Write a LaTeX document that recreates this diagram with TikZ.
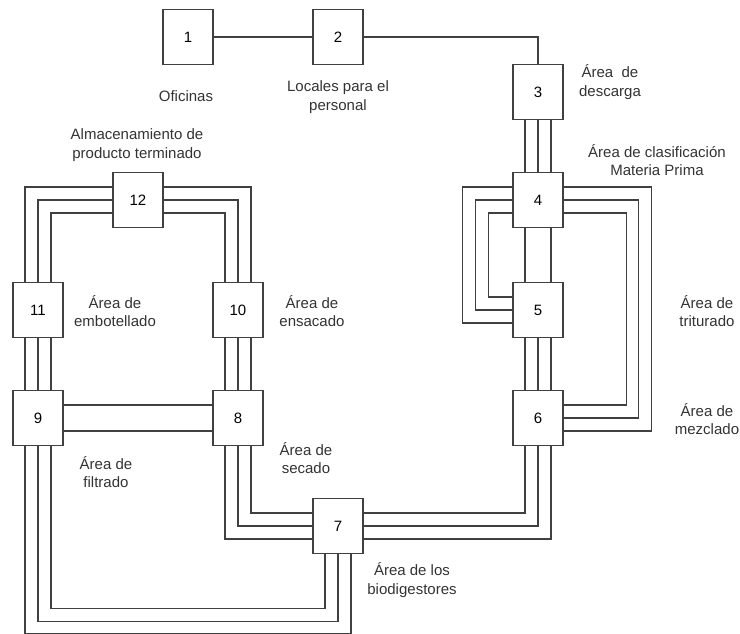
\documentclass[tikz,border=0pt]{standalone}
\usepackage{fontspec}
\setmainfont{Liberation Sans}
\usetikzlibrary{positioning}

\begin{document}
\begin{tikzpicture}[
    x=1pt, y=1pt,
    font=\fontsize{15}{18.5}\selectfont,
    area/.style={draw=black!75, line width=1.2pt, minimum width=50pt, minimum height=55pt, inner sep=0pt},
    pipe/.style={draw=black!75, line width=1.2pt},
    lbl/.style={align=center, text=black!80}
]
    \useasboundingbox (0,0) rectangle (740,-633);

    % areas of the plant
    \node[area] (b1) at (188,-37) {1};
    \node[area] (b2) at (338,-37) {2};
    \node[area] (b3) at (538,-92) {3};
    \node[area] (b4) at (538,-200) {4};
    \node[area] (b5) at (538,-310) {5};
    \node[area] (b6) at (538,-418) {6};
    \node[area] (b7) at (338,-526) {7};
    \node[area] (b8) at (238,-418) {8};
    \node[area] (b9) at (38,-418) {9};
    \node[area] (b10) at (238,-310) {10};
    \node[area] (b11) at (38,-310) {11};
    \node[area] (b12) at (138,-200) {12};

    % labels
    \node[lbl] (l1) at (186,-96) {Oficinas};
    \node[lbl] (l2) at (338,-97) {Locales para el\\personal};
    \node[lbl] (l3) at (610,-82) {Área~~de\\descarga};
    \node[lbl] (l4) at (657,-160) {Área de clasificación\\Materia Prima};
    \node[lbl] (l5) at (707,-311) {Área de\\triturado};
    \node[lbl] (l6) at (707,-419) {Área de\\mezclado};
    \node[lbl] (l7) at (412,-580) {Área de los\\biodigestores};
    \node[lbl] (l8) at (306,-458) {Área de\\secado};
    \node[lbl] (l9) at (106,-472) {Área de\\filtrado};
    \node[lbl] (l10) at (312,-311) {Área de\\ensacado};
    \node[lbl] (l11) at (115,-311) {Área de\\embotellado};
    \node[lbl] (l12) at (137,-145) {Almacenamiento de\\producto terminado};

    % single lines
    \draw[pipe] (b1) -- (b2);
    \draw[pipe] (b2.east) -| (b3.north);

    % straight pipes
    \draw[pipe] ([xshift=-13pt]b3.south) -- ([xshift=-13pt]b4.north)
        (b3.south) -- (b4.north)
        ([xshift=13pt]b3.south) -- ([xshift=13pt]b4.north);
    \draw[pipe] ([xshift=-13pt]b4.south) -- ([xshift=-13pt]b5.north)
        ([xshift=13pt]b4.south) -- ([xshift=13pt]b5.north);
    \draw[pipe] ([xshift=-13pt]b5.south) -- ([xshift=-13pt]b6.north)
        (b5.south) -- (b6.north)
        ([xshift=13pt]b5.south) -- ([xshift=13pt]b6.north);
    \draw[pipe] ([xshift=-13pt]b10.south) -- ([xshift=-13pt]b8.north)
        (b10.south) -- (b8.north)
        ([xshift=13pt]b10.south) -- ([xshift=13pt]b8.north);
    \draw[pipe] ([xshift=-13pt]b11.south) -- ([xshift=-13pt]b9.north)
        (b11.south) -- (b9.north)
        ([xshift=13pt]b11.south) -- ([xshift=13pt]b9.north);
    \draw[pipe] ([yshift=13pt]b9.east) -- ([yshift=13pt]b8.west)
        ([yshift=-13pt]b9.east) -- ([yshift=-13pt]b8.west);

    % bent pipes
    \draw[pipe] ([yshift=13pt]b4.west) -- ++(-50,0) |- ([yshift=-13pt]b5.west)
        (b4.west) -- ++(-37,0) |- (b5.west)
        ([yshift=-13pt]b4.west) -- ++(-24,0) |- ([yshift=13pt]b5.west);
    \draw[pipe] ([yshift=13pt]b4.east) -- ++(88,0) |- ([yshift=-13pt]b6.east)
        (b4.east) -- ++(75,0) |- (b6.east)
        ([yshift=-13pt]b4.east) -- ++(63,0) |- ([yshift=13pt]b6.east);
    \draw[pipe] ([xshift=-13pt]b6.south) |- ([yshift=13pt]b7.east)
        (b6.south) |- (b7.east)
        ([xshift=13pt]b6.south) |- ([yshift=-13pt]b7.east);
    \draw[pipe] ([yshift=13pt]b7.west) -| ([xshift=13pt]b8.south)
        (b7.west) -| (b8.south)
        ([yshift=-13pt]b7.west) -| ([xshift=-13pt]b8.south);
    \draw[pipe] ([xshift=-13pt]b7.south) -- ++(0,-54) -| ([xshift=13pt]b9.south)
        (b7.south) -- ++(0,-67) -| (b9.south)
        ([xshift=13pt]b7.south) -- ++(0,-79) -| ([xshift=-13pt]b9.south);
    \draw[pipe] ([yshift=13pt]b12.west) -| ([xshift=-13pt]b11.north)
        (b12.west) -| (b11.north)
        ([yshift=-13pt]b12.west) -| ([xshift=13pt]b11.north);
    \draw[pipe] ([yshift=13pt]b12.east) -| ([xshift=13pt]b10.north)
        (b12.east) -| (b10.north)
        ([yshift=-13pt]b12.east) -| ([xshift=-13pt]b10.north);
\end{tikzpicture}
\end{document}
